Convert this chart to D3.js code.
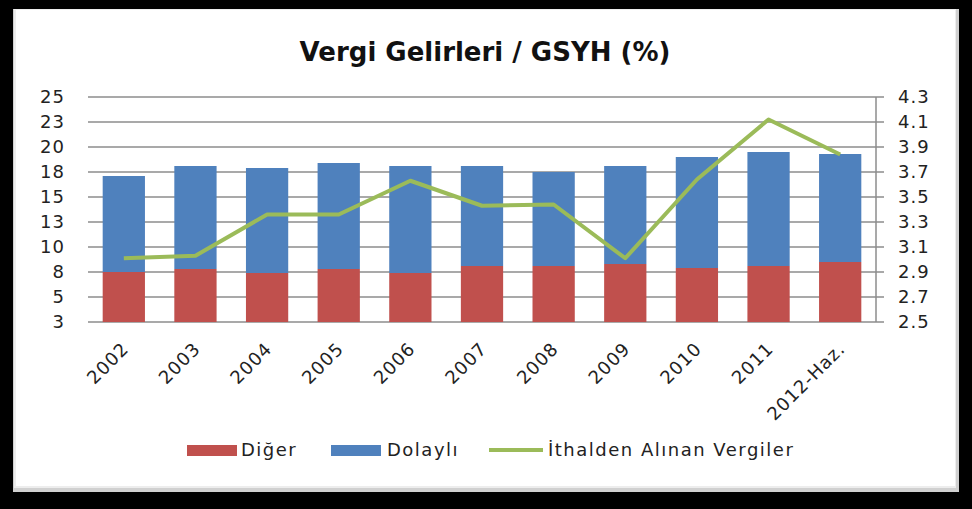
<!DOCTYPE html>
<html>
<head>
<meta charset="utf-8">
<script src="https://cdn.jsdelivr.net/npm/d3@7"></script>
<style>
  html, body { margin: 0; padding: 0; background: #000; }
  svg { display: block; }
</style>
</head>
<body>
<div id="chart"></div>
<script>
// data
const years = ["2002", "2003", "2004", "2005", "2006", "2007", "2008", "2009", "2010", "2011", "2012-Haz."];
const diger = [7.5, 7.8, 7.4, 7.8, 7.4, 8.1, 8.1, 8.3, 7.9, 8.1, 8.5];
const dolayli = [9.6, 10.3, 10.5, 10.6, 10.7, 10.0, 9.4, 9.8, 11.1, 11.4, 10.8];
const ithalden = [3.01, 3.03, 3.36, 3.36, 3.63, 3.43, 3.44, 3.01, 3.64, 4.12, 3.84];
const leftTicks = [2.5, 5, 7.5, 10, 12.5, 15, 17.5, 20, 22.5, 25];
const rightTicks = [2.5, 2.7, 2.9, 3.1, 3.3, 3.5, 3.7, 3.9, 4.1, 4.3];

const W = 972, H = 509;
const margin = { top: 97, right: 96, bottom: 187, left: 88 };
const width = W - margin.left - margin.right;
const height = H - margin.top - margin.bottom;

const svg = d3.select('#chart').append('svg')
    .attr('width', W).attr('height', H);

// black page, white panel with a bevelled edge
svg.append('rect').attr('width', W).attr('height', H).attr('fill', '#000');
svg.append('rect').attr('x', 13).attr('y', 9).attr('width', 946).attr('height', 483).attr('fill', '#d0d0d0');
svg.append('rect').attr('x', 14).attr('y', 9).attr('width', 942).attr('height', 479).attr('fill', '#ededed');
svg.append('rect').attr('x', 16).attr('y', 10).attr('width', 939).attr('height', 476).attr('fill', '#fff');

const font = 'DejaVu Sans, Verdana, sans-serif';

svg.append('text')
    .attr('x', 485).attr('y', 61)
    .attr('text-anchor', 'middle')
    .style('font-family', font).style('font-weight', 'bold').style('font-size', '26px')
    .attr('fill', '#111')
    .text('Vergi Gelirleri / GSYH (%)');

const g = svg.append('g').attr('transform', `translate(${margin.left}, ${margin.top})`);

const x = d3.scaleBand().domain(years).range([0, width]).paddingInner(0.41).paddingOuter(0.205);
const y = d3.scaleLinear().domain([2.5, 25]).range([height, 0]);
const y2 = d3.scaleLinear().domain([2.5, 4.3]).range([height, 0]);

// gridlines
g.selectAll('.grid').data(leftTicks).enter().append('line')
    .attr('x1', 0).attr('x2', width)
    .attr('y1', d => y(d)).attr('y2', d => y(d))
    .attr('stroke', '#8c8c8c').attr('stroke-width', 1.5);

// stacked bars
const stack = years.map((yr, i) => ({ yr: yr, d: diger[i], t: diger[i] + dolayli[i] }));
g.selectAll('.bar-d').data(stack).enter().append('rect')
    .attr('x', d => x(d.yr)).attr('width', x.bandwidth())
    .attr('y', d => y(d.d)).attr('height', d => y(2.5) - y(d.d))
    .attr('fill', '#c0504d');
g.selectAll('.bar-t').data(stack).enter().append('rect')
    .attr('x', d => x(d.yr)).attr('width', x.bandwidth())
    .attr('y', d => y(d.t)).attr('height', d => y(d.d) - y(d.t))
    .attr('fill', '#4f81bd');

// right axis line + ticks
g.append('line').attr('x1', width).attr('x2', width).attr('y1', 0).attr('y2', height)
    .attr('stroke', '#8c8c8c').attr('stroke-width', 1.5);
g.selectAll('.rtick').data(rightTicks).enter().append('line')
    .attr('x1', width).attr('x2', width + 8)
    .attr('y1', d => y2(d)).attr('y2', d => y2(d))
    .attr('stroke', '#8c8c8c').attr('stroke-width', 1.5);

// line series
const line = d3.line()
    .x((d, i) => x(years[i]) + x.bandwidth() / 2)
    .y(d => y2(d));
g.append('path').datum(ithalden)
    .attr('d', line)
    .attr('fill', 'none').attr('stroke', '#9bbb59').attr('stroke-width', 4)
    .attr('stroke-linejoin', 'round');

// tick labels
const lbl = sel => sel.style('font-family', font).style('font-size', '18px')
    .style('letter-spacing', '1px').attr('fill', '#222');

g.selectAll('.ll').data(leftTicks).enter().append('text')
    .attr('x', -23).attr('y', d => y(d)).attr('dy', '0.36em')
    .attr('text-anchor', 'end')
    .call(lbl)
    .text(d => d3.format('.0f')(Math.round(d)));

g.selectAll('.rl').data(rightTicks).enter().append('text')
    .attr('x', width + 22).attr('y', d => y2(d)).attr('dy', '0.36em')
    .call(lbl)
    .text(d => d3.format('.1f')(d));

g.selectAll('.xl').data(years).enter().append('text')
    .attr('transform', d => `translate(${x(d) + x.bandwidth() / 2 + 6}, ${height + 28}) rotate(-45)`)
    .attr('text-anchor', 'end')
    .call(lbl)
    .text(d => d);

// legend
const legend = svg.append('g').attr('transform', 'translate(0, 450)');
const items = [
    { name: 'Diğer', color: '#c0504d', type: 'rect', x: 187, tx: 241 },
    { name: 'Dolaylı', color: '#4f81bd', type: 'rect', x: 331, tx: 387 },
    { name: 'İthalden Alınan Vergiler', color: '#9bbb59', type: 'line', x: 489, tx: 548 }
];
items.forEach(it => {
    if (it.type === 'rect') {
        legend.append('rect').attr('x', it.x).attr('y', -5).attr('width', 50).attr('height', 11).attr('fill', it.color);
    } else {
        legend.append('line').attr('x1', it.x).attr('x2', it.x + 54).attr('y1', 0).attr('y2', 0)
            .attr('stroke', it.color).attr('stroke-width', 4);
    }
    legend.append('text').attr('x', it.tx).attr('y', 0).attr('dy', '0.36em')
        .call(lbl).style('letter-spacing', '1.5px').text(it.name);
});
</script>
</body>
</html>
